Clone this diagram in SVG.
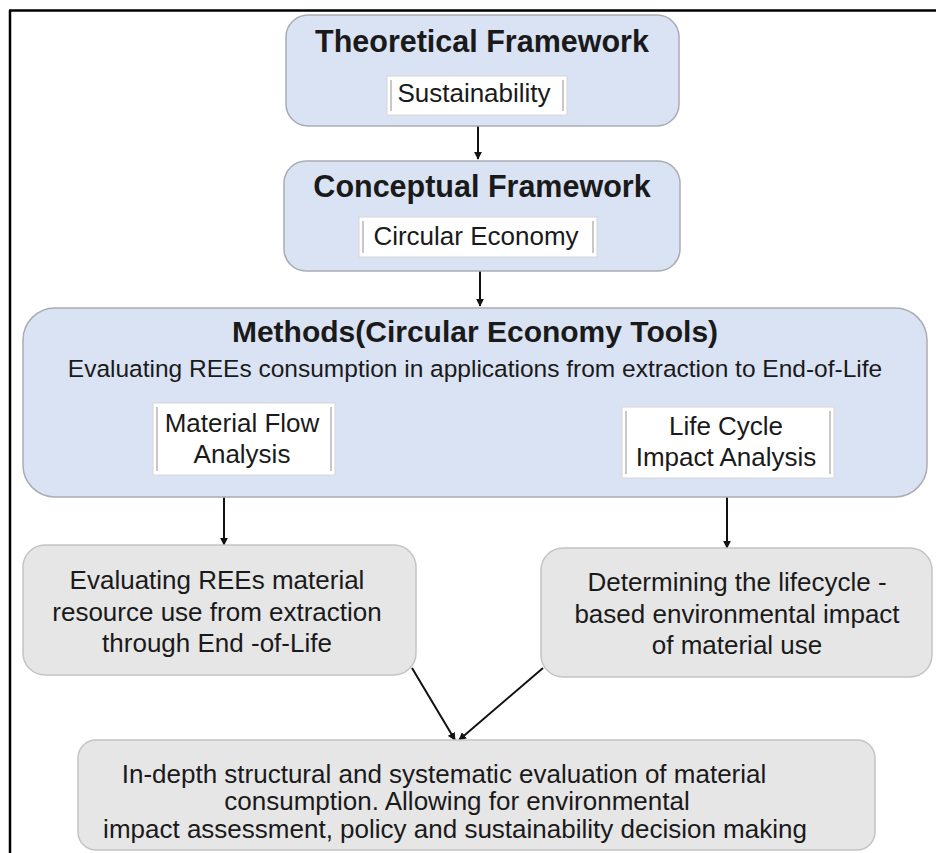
<svg xmlns="http://www.w3.org/2000/svg" width="936" height="853" viewBox="0 0 936 853">
<style>
.blue{fill:#dae3f3;stroke:#a8acb4;stroke-width:1.5}
.gray{fill:#e6e6e6;stroke:#c4c4c4;stroke-width:1.5}
.sub{fill:#ffffff;stroke:#d6d6d6;stroke-width:1}
.bev{stroke:#c8c8c8;stroke-width:2}
.t{font-family:"Liberation Sans",Arial,sans-serif;fill:#1a1a1a;text-anchor:middle}
.b{font-weight:bold;font-size:30.5px}
.r{font-size:26px}
.conn{stroke:#111;stroke-width:2;fill:none;marker-end:url(#ah)}
</style>
<defs>
<marker id="ah" viewBox="0 0 10 10" refX="9" refY="5" markerWidth="4" markerHeight="4" orient="auto"><path d="M0,0 L10,5 L0,10 z" fill="#111"/></marker>
</defs>
<g id="frame" stroke="#000" stroke-width="2.5" fill="none">
<line x1="9" y1="10.5" x2="936" y2="10.5"/>
<line x1="10" y1="10" x2="10" y2="853"/>
</g>
<g id="connectors">
<line class="conn" x1="478" y1="126" x2="478" y2="159"/>
<line class="conn" x1="480" y1="271" x2="480" y2="306"/>
<line class="conn" x1="224" y1="497" x2="224" y2="545"/>
<line class="conn" x1="727" y1="497" x2="727" y2="548"/>
<line class="conn" x1="412" y1="668" x2="455" y2="740"/>
<line class="conn" x1="543" y1="668" x2="459" y2="740"/>
</g>
<g id="theoretical">
<rect class="blue" x="286" y="15" width="393" height="111" rx="22"/>
<text class="t b" x="482" y="52">Theoretical Framework</text>
<rect class="sub" x="387" y="76" width="180" height="39"/>
<line class="bev" x1="391" y1="80" x2="391" y2="111"/>
<line class="bev" x1="563" y1="80" x2="563" y2="111"/>
<text class="t r" x="474" y="102">Sustainability</text>
</g>
<g id="conceptual">
<rect class="blue" x="284" y="161" width="396" height="110" rx="22"/>
<text class="t b" x="482" y="197">Conceptual Framework</text>
<rect class="sub" x="359" y="217" width="238" height="40"/>
<line class="bev" x1="363" y1="221" x2="363" y2="253"/>
<line class="bev" x1="593" y1="221" x2="593" y2="253"/>
<text class="t r" x="476" y="245">Circular Economy</text>
</g>
<g id="methods">
<rect class="blue" x="23" y="308" width="904" height="189" rx="32"/>
<text class="t b" style="font-size:30px" x="475" y="342">Methods(Circular Economy Tools)</text>
<text class="t" style="font-size:24.5px" x="475" y="377">Evaluating REEs consumption in applications from extraction to End-of-Life</text>
<rect class="sub" x="153" y="403" width="182" height="72"/>
<line class="bev" x1="157" y1="407" x2="157" y2="471"/>
<line class="bev" x1="331" y1="407" x2="331" y2="471"/>
<text class="t r" x="242" y="432">Material Flow</text>
<text class="t r" x="242" y="463">Analysis</text>
<rect class="sub" x="622" y="407" width="212" height="71"/>
<line class="bev" x1="626" y1="411" x2="626" y2="474"/>
<line class="bev" x1="830" y1="411" x2="830" y2="474"/>
<text class="t r" x="726" y="435">Life Cycle</text>
<text class="t r" x="726" y="466">Impact Analysis</text>
</g>
<g id="mfa-result">
<rect class="gray" x="23" y="545" width="393" height="130" rx="22"/>
<text class="t r" x="217" y="589">Evaluating REEs material</text>
<text class="t r" x="217" y="621">resource use from extraction</text>
<text class="t r" x="217" y="652">through End -of-Life</text>
</g>
<g id="lcia-result">
<rect class="gray" x="541" y="548" width="391" height="129" rx="22"/>
<text class="t r" x="737" y="591">Determining the lifecycle -</text>
<text class="t r" x="737" y="623">based environmental impact</text>
<text class="t r" x="737" y="654">of material use</text>
</g>
<g id="evaluation">
<rect class="gray" x="78" y="740" width="797" height="110" rx="18"/>
<text class="t r" x="444" y="783">In-depth structural and systematic evaluation of material</text>
<text class="t r" x="457" y="810">consumption. Allowing for environmental</text>
<text class="t r" x="455" y="838">impact assessment, policy and sustainability decision making</text>
</g>
</svg>
